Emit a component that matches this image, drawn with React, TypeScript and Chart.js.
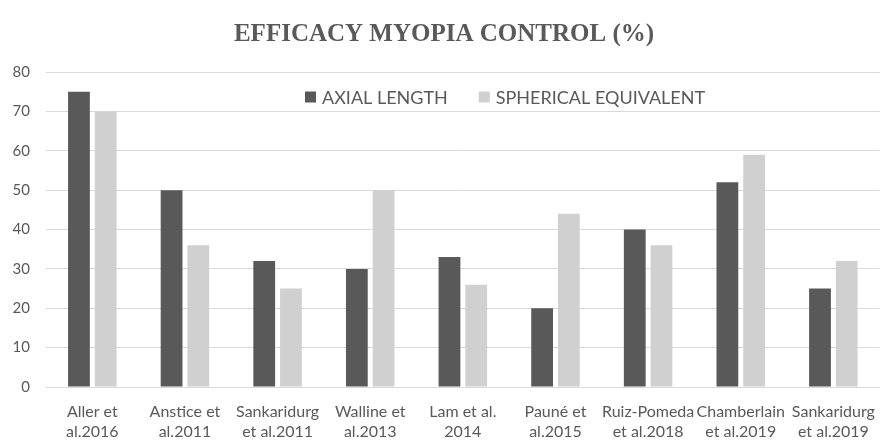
import React, { useEffect, useRef } from "react";
import { Chart, registerables } from "chart.js";

Chart.register(...registerables);

const categories: string[][] = [
  ["Aller et", "al.2016"],
  ["Anstice et", "al.2011"],
  ["Sankaridurg", "et al.2011"],
  ["Walline et", "al.2013"],
  ["Lam et al.", "2014"],
  ["Pauné et", "al.2015"],
  ["Ruiz-Pomeda", "et al.2018"],
  ["Chamberlain", "et al.2019"],
  ["Sankaridurg", "et al.2019"],
];
const axialLength = [75, 50, 32, 30, 33, 20, 40, 52, 25];
const sphericalEquivalent = [70, 36, 25, 50, 26, 44, 36, 59, 32];
const seriesNames = ["AXIAL LENGTH", "SPHERICAL EQUIVALENT"];
const titleText = "EFFICACY MYOPIA CONTROL (%)";
const yMin = 0;
const yMax = 80;
const yStep = 10;

const DARK = "#595959";
const LIGHT = "#D0D0D0";
const GRID = "#D9D9D9";
const TEXT = "#595959";
const FONT = "Lato, 'Open Sans', sans-serif";

const insideLegend = {
  id: "insideLegend",
  afterDraw(chart: any) {
    const ctx = chart.ctx;
    const area = chart.chartArea;
    ctx.save();
    ctx.font = `18px ${FONT}`;
    ctx.textBaseline = "middle";
    ctx.textAlign = "left";
    const y = area.top + 25;
    let x = area.left + 259;
    const box = 11;
    chart.data.datasets.forEach((ds: any) => {
      ctx.fillStyle = ds.backgroundColor;
      ctx.fillRect(x, y - box / 2, box, box);
      x += box + 6;
      ctx.fillStyle = TEXT;
      ctx.fillText(ds.label, x, y + 1);
      x += ctx.measureText(ds.label).width + 31;
    });
    ctx.restore();
  },
};

export default function App() {
  const ref = useRef<HTMLCanvasElement | null>(null);
  useEffect(() => {
    if (!ref.current) return;
    const chart = new Chart(ref.current, {
      type: "bar",
      data: {
        labels: categories,
        datasets: [
          {
            label: seriesNames[0],
            data: axialLength,
            backgroundColor: DARK,
            categoryPercentage: 0.577,
            barPercentage: 0.815,
          },
          {
            label: seriesNames[1],
            data: sphericalEquivalent,
            backgroundColor: LIGHT,
            categoryPercentage: 0.577,
            barPercentage: 0.815,
          },
        ],
      },
      options: {
        animation: false,
        responsive: true,
        maintainAspectRatio: false,
        layout: { padding: { left: 0, right: 2, top: 0, bottom: 0 } },
        plugins: {
          legend: { display: false },
          tooltip: { enabled: false },
          title: {
            display: true,
            text: titleText,
            color: TEXT,
            font: { family: "'Liberation Serif', 'Times New Roman', serif", size: 25, weight: "bold" },
            padding: { top: 20, bottom: 22 },
          },
        },
        scales: {
          x: {
            grid: { display: false, drawTicks: false },
            border: { display: true, color: GRID, width: 1 },
            ticks: {
              color: TEXT,
              font: { family: FONT, size: 16, lineHeight: 1.25 },
              padding: 15,
              maxRotation: 0,
              autoSkip: false,
            },
            afterFit: (scale: any) => {
              scale.height = 55;
            },
          },
          y: {
            min: yMin,
            max: yMax,
            grid: { color: GRID, drawTicks: false, lineWidth: 1 },
            border: { display: false },
            ticks: {
              stepSize: yStep,
              color: TEXT,
              font: { family: FONT, size: 15 },
              padding: 16,
            },
            afterFit: (scale: any) => {
              scale.width = 46;
            },
          },
        },
      },
      plugins: [insideLegend],
    });
    return () => chart.destroy();
  }, []);
  return (
    <div style={{ position: "fixed", left: 0, top: 0, width: 890, height: 442, background: "#fff" }}>
      <canvas ref={ref} />
    </div>
  );
}
